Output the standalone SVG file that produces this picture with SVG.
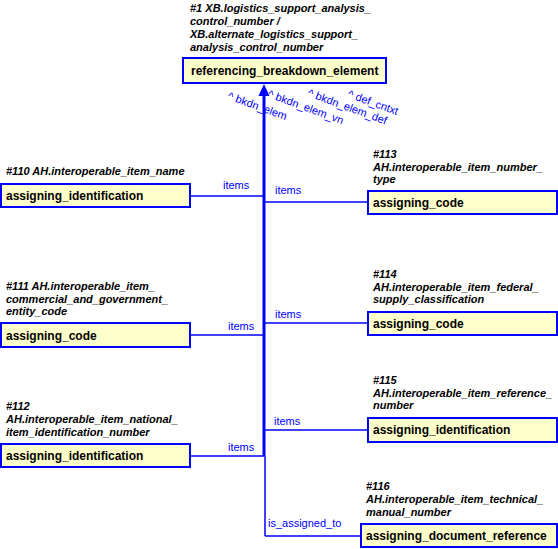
<svg xmlns="http://www.w3.org/2000/svg" width="558" height="549" viewBox="0 0 558 549">
<style>
.box{fill:#ffffcc;stroke:#0000ff;stroke-width:2}
.nt{font-family:"Liberation Sans",Arial,sans-serif;font-weight:bold;font-size:12px;fill:#000}
.cap{font-family:"Liberation Sans",Arial,sans-serif;font-weight:bold;font-style:italic;font-size:11px;fill:#000}
.ln{stroke:#0000ff;stroke-width:1.5;fill:none}
.lb{font-family:"Liberation Sans",Arial,sans-serif;font-size:11px;fill:#0000ff}
</style>
<rect width="558" height="549" fill="#fff"/>
<g id="connectors">
<line class="ln" x1="264" y1="92" x2="264" y2="456" style="stroke-width:3"/>
<line class="ln" x1="265" y1="456" x2="265" y2="536"/>
<polygon points="264,84 258.5,96 269.5,96" fill="#0000ff"/>
<line class="ln" x1="190" y1="196" x2="264" y2="196"/>
<line class="ln" x1="190" y1="335" x2="264" y2="335"/>
<line class="ln" x1="190" y1="456" x2="264" y2="456"/>
<line class="ln" x1="264" y1="202" x2="367" y2="202"/>
<line class="ln" x1="264" y1="323" x2="367" y2="323"/>
<line class="ln" x1="264" y1="430" x2="368" y2="430"/>
<line class="ln" x1="265" y1="536" x2="361" y2="536"/>
<text class="lb" x="223" y="189">items</text>
<text class="lb" x="228" y="330">items</text>
<text class="lb" x="228" y="451">items</text>
<text class="lb" x="275" y="194">items</text>
<text class="lb" x="275" y="318">items</text>
<text class="lb" x="274" y="425">items</text>
<text class="lb" x="268" y="527">is_assigned_to</text>
<text class="lb" transform="rotate(20 227 99)" x="227" y="99">^ bkdn_elem</text>
<text class="lb" transform="rotate(20 267 97)" x="267" y="97">^ bkdn_elem_vn</text>
<text class="lb" transform="rotate(20 307 96)" x="307" y="96">^ bkdn_elem_def</text>
<text class="lb" transform="rotate(20 347 97)" x="347" y="97">^ def_cntxt</text>
</g>
<g id="n1">
<text class="cap" x="190" y="12">#1 XB.logistics_support_analysis_</text>
<text class="cap" x="190" y="25">control_number /</text>
<text class="cap" x="190" y="38">XB.alternate_logistics_support_</text>
<text class="cap" x="190" y="51">analysis_control_number</text>
<rect class="box" x="183" y="58" width="203" height="25"/>
<text class="nt" x="191" y="75">referencing_breakdown_element</text>
</g>
<g id="n110">
<text class="cap" x="6" y="175">#110 AH.interoperable_item_name</text>
<rect class="box" x="1" y="184" width="189" height="23"/>
<text class="nt" x="6" y="200">assigning_identification</text>
</g>
<g id="n111">
<text class="cap" x="6" y="290">#111  AH.interoperable_item_</text>
<text class="cap" x="6" y="303">commercial_and_government_</text>
<text class="cap" x="6" y="315">entity_code</text>
<rect class="box" x="1" y="323" width="189" height="24"/>
<text class="nt" x="6" y="340">assigning_code</text>
</g>
<g id="n112">
<text class="cap" x="6" y="410">#112</text>
<text class="cap" x="6" y="423">AH.interoperable_item_national_</text>
<text class="cap" x="6" y="436">item_identification_number</text>
<rect class="box" x="1" y="444" width="189" height="23"/>
<text class="nt" x="6" y="460">assigning_identification</text>
</g>
<g id="n113">
<text class="cap" x="373" y="158">#113</text>
<text class="cap" x="373" y="171">AH.interoperable_item_number_</text>
<text class="cap" x="373" y="183">type</text>
<rect class="box" x="368" y="191" width="189" height="23"/>
<text class="nt" x="373" y="207">assigning_code</text>
</g>
<g id="n114">
<text class="cap" x="373" y="278">#114</text>
<text class="cap" x="373" y="291">AH.interoperable_item_federal_</text>
<text class="cap" x="373" y="303">supply_classification</text>
<rect class="box" x="368" y="312" width="189" height="23"/>
<text class="nt" x="373" y="328">assigning_code</text>
</g>
<g id="n115">
<text class="cap" x="373" y="384">#115</text>
<text class="cap" x="373" y="397">AH.interoperable_item_reference_</text>
<text class="cap" x="373" y="409">number</text>
<rect class="box" x="368" y="418" width="189" height="24"/>
<text class="nt" x="373" y="434">assigning_identification</text>
</g>
<g id="n116">
<text class="cap" x="366" y="490">#116</text>
<text class="cap" x="366" y="503">AH.interoperable_item_technical_</text>
<text class="cap" x="366" y="516">manual_number</text>
<rect class="box" x="361" y="524" width="196" height="23"/>
<text class="nt" x="366" y="540">assigning_document_reference</text>
</g>
</svg>
